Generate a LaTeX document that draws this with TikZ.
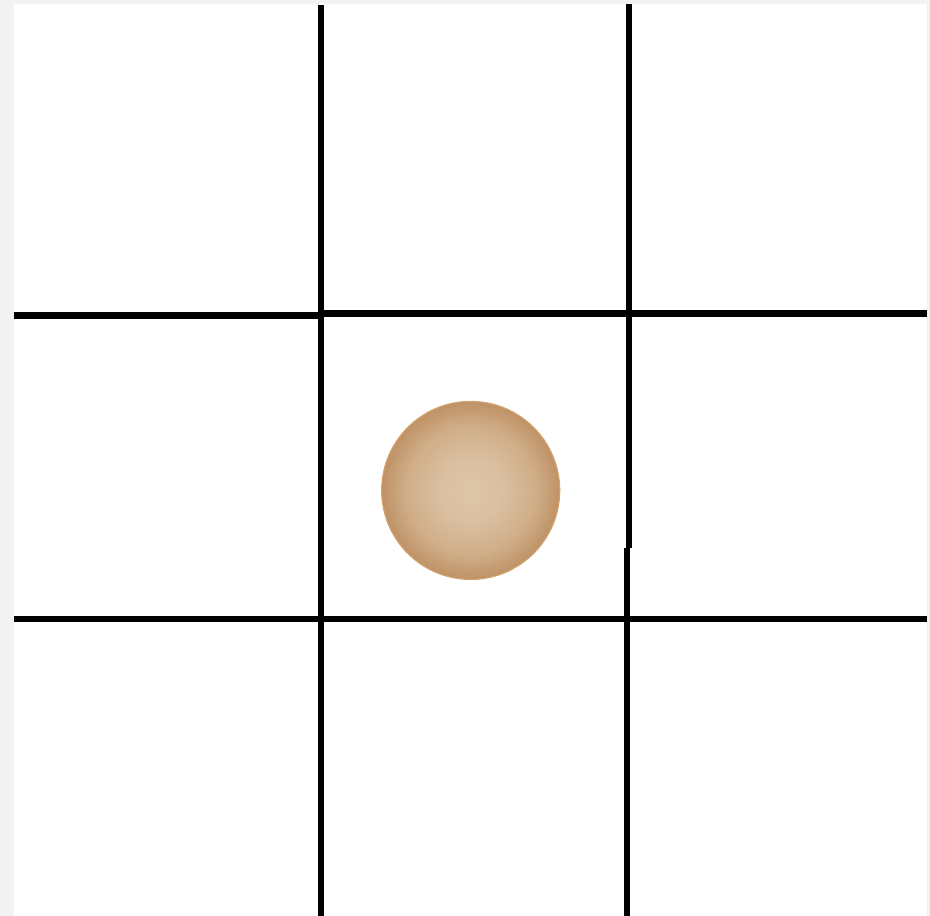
\documentclass[tikz,border=0pt]{standalone}
\definecolor{margin}{HTML}{F2F2F2}
\definecolor{ballin}{HTML}{DFC7AA}
\definecolor{ballmid}{HTML}{D4B591}
\definecolor{ballout}{HTML}{BF9266}
\definecolor{ballrim}{HTML}{D2A36E}
\pgfdeclareradialshading{ballshade}{\pgfpoint{0bp}{0bp}}{%
  color(0bp)=(ballin); color(9bp)=(ballin!85!ballout); color(18bp)=(ballmid!80!ballout);
  color(25bp)=(ballout); color(50bp)=(ballout)}
\tikzset{
  gridline/.style={line width=6.6pt, black, line cap=butt},
  ball/.style={circle, minimum size=178pt, inner sep=0pt, draw=ballrim, line width=1.2pt,
               shading=ballshade}
}
\begin{document}
\begin{tikzpicture}[x=1pt,y=-1pt]
  % page and margins
  \fill[margin] (0,0) rectangle (930,916);
  \fill[white] (14,4) rectangle (927,916);
  \useasboundingbox (0,0) rectangle (930,916);
  % grid lines
  \coordinate (v1t) at (321,5);
  \coordinate (v1b) at (321,916);
  \coordinate (v2t) at (629,4);
  \coordinate (v2m) at (629,548);
  \coordinate (v2n) at (627,548);
  \coordinate (v2b) at (627,916);
  \coordinate (h1l) at (14,315.5);
  \coordinate (h1m) at (321,315.5);
  \coordinate (h1n) at (321,313.7);
  \coordinate (h1r) at (927,313.7);
  \coordinate (h2l) at (14,619);
  \coordinate (h2r) at (927,619);
  \draw[gridline] (h1l) -- (h1m);
  \draw[gridline] (h1n) -- (h1r);
  \draw[gridline] (h2l) -- (h2r);
  \draw[gridline] (v1t) -- (v1b);
  \draw[gridline] (v2t) -- (v2m);
  \draw[gridline] (v2n) -- (v2b);
  % ball
  \node[ball] (ball) at (470.7,490.4) {};
\end{tikzpicture}
\end{document}
